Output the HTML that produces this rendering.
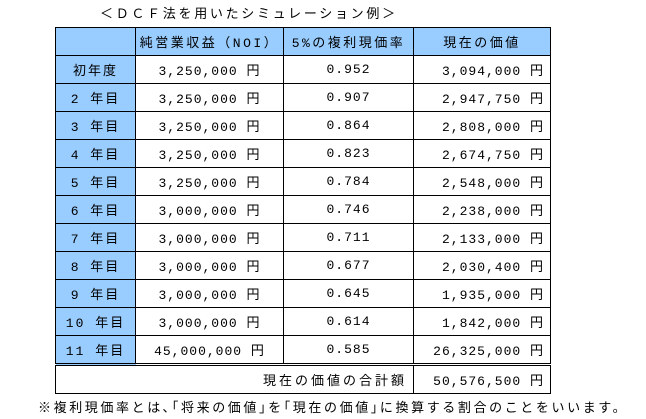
<!DOCTYPE html>
<html><head><meta charset="utf-8"><style>
body{margin:0;width:646px;height:419px;background:#fff;position:relative;overflow:hidden;font-family:"Liberation Mono","Noto Sans CJK JP",monospace;font-size:13px;color:#000}
.t{position:absolute;white-space:nowrap}
table{position:absolute;left:55px;top:27px;border-collapse:collapse}
td{border:1px solid #000;height:27px;padding:0;text-align:center;letter-spacing:1px}
td.h{background:#99ccff;letter-spacing:2px}
tr.hd td{letter-spacing:2.5px}
td.r{text-align:right;padding-right:6px}
tr.tot td{border-top:3px double #000;height:27px}
</style></head><body>
<div class="t" style="left:100px;top:3px;letter-spacing:2.7px">＜ＤＣＦ法を用いたシミュレーション例＞</div>
<table>
<tr class="hd"><td class="h" style="width:79px"></td><td class="h" style="width:147px">純営業収益（NOI）</td><td class="h" style="width:129px">5%の複利現価率</td><td class="h" style="width:136px">現在の価値</td></tr>
<tr><td class="h">初年度</td><td>3,250,000 円</td><td>0.952</td><td class="r">3,094,000 円</td></tr>
<tr><td class="h">2 年目</td><td>3,250,000 円</td><td>0.907</td><td class="r">2,947,750 円</td></tr>
<tr><td class="h">3 年目</td><td>3,250,000 円</td><td>0.864</td><td class="r">2,808,000 円</td></tr>
<tr><td class="h">4 年目</td><td>3,250,000 円</td><td>0.823</td><td class="r">2,674,750 円</td></tr>
<tr><td class="h">5 年目</td><td>3,250,000 円</td><td>0.784</td><td class="r">2,548,000 円</td></tr>
<tr><td class="h">6 年目</td><td>3,000,000 円</td><td>0.746</td><td class="r">2,238,000 円</td></tr>
<tr><td class="h">7 年目</td><td>3,000,000 円</td><td>0.711</td><td class="r">2,133,000 円</td></tr>
<tr><td class="h">8 年目</td><td>3,000,000 円</td><td>0.677</td><td class="r">2,030,400 円</td></tr>
<tr><td class="h">9 年目</td><td>3,000,000 円</td><td>0.645</td><td class="r">1,935,000 円</td></tr>
<tr><td class="h">10 年目</td><td>3,000,000 円</td><td>0.614</td><td class="r">1,842,000 円</td></tr>
<tr><td class="h">11 年目</td><td>45,000,000 円</td><td>0.585</td><td class="r">26,325,000 円</td></tr>
<tr class="tot"><td colspan="3" class="r" style="letter-spacing:3px">現在の価値の合計額</td><td class="r">50,576,500 円</td></tr>
</table>
<div class="t" style="left:38px;top:397px;letter-spacing:2.6px">※複利現価率とは､｢将来の価値｣を｢現在の価値｣に換算する割合のことをいいます。</div>
</body></html>
